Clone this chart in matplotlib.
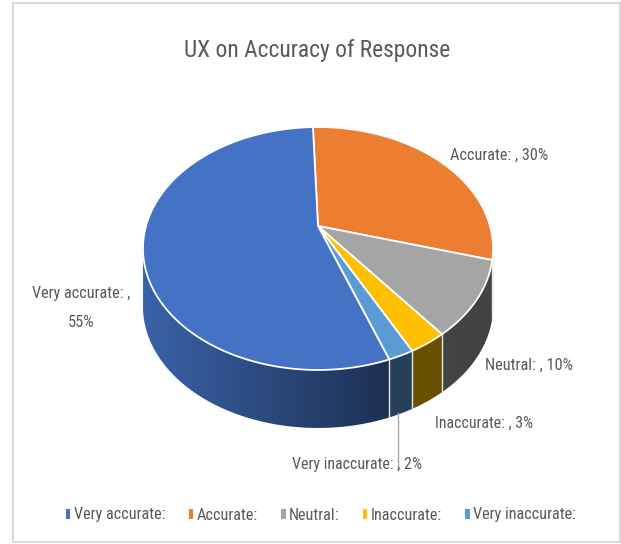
import os
import numpy as np
import matplotlib
matplotlib.use('Agg')
import matplotlib.pyplot as plt
from matplotlib.patches import Polygon, Rectangle, Patch
from matplotlib.colors import to_rgb
from matplotlib import font_manager as fm

# ---------------- data ----------------
categories = ['Very accurate:', 'Accurate:', 'Neutral:', 'Inaccurate:', 'Very inaccurate:']
values = [55, 30, 10, 3, 2]
pct_labels = ['55%', '30%', '10%', '3%', '2%']
colors = ['#4472C4', '#ED7D31', '#A5A5A5', '#FFC000', '#5B9BD5']
title = 'UX on Accuracy of Response'
draw_order = [1, 2, 3, 4, 0]          # clockwise from 12 o'clock

# ---------------- font ----------------
names = {f.name for f in fm.fontManager.ttflist}
fam = 'Lato'
for cand in ['Roboto Condensed', 'Archivo Narrow', 'Liberation Sans Narrow']:
    if cand in names:
        fam = cand
        break
base_fp = fm.FontProperties(family=fam)

def fp(size):
    p = base_fp.copy()
    p.set_size(size)
    return p

# ---------------- figure ----------------
W, H = 621, 544
fig = plt.figure(figsize=(W / 100, H / 100), dpi=100)
ax = fig.add_axes([0, 0, 1, 1])
ax.axis('off')

ax.add_patch(Rectangle((13, 3), 607, 539, facecolor='white', edgecolor='#d9d9d9', lw=1.5, zorder=0))

# perspective pie geometry
cx, cy = 318.0, 226.0
A, B, k = 172.0, 117.3, 0.1852
depth = 58.0
start = 92.0

def top_pt(th):
    t = np.radians(th)
    u, v = np.cos(t), np.sin(t)
    d = 1 + k * v
    return cx + A * u / d, cy - B * v / d

vis_lo = -180.0 + np.degrees(np.arcsin(k))
vis_hi = -np.degrees(np.arcsin(k))

def factor(X):
    return np.interp(X, [143, 390, 493], [0.86, 0.42, 0.40])

total = float(sum(values))
a = start
slices = []
for i in draw_order:
    b = a - 360.0 * values[i] / total
    slices.append((i, a, b))
    a = b

# sides (shaded with a horizontal gradient clipped to each side face)
for i, a, b in slices:
    for m in (-1, 0, 1):
        lo = max(b, vis_lo + 360 * m)
        hi = min(a, vis_hi + 360 * m)
        if hi <= lo:
            continue
        ths = np.linspace(lo, hi, max(3, int((hi - lo) * 2) + 2))
        topp = [top_pt(t) for t in ths]
        verts = topp + [(x, y + depth) for x, y in topp[::-1]]
        poly = Polygon(verts, closed=True, facecolor='none', edgecolor='none', zorder=2)
        ax.add_patch(poly)
        xs = np.array([p[0] for p in verts])
        ys = np.array([p[1] for p in verts])
        x0, x1 = xs.min() - 1, xs.max() + 1
        y0, y1 = ys.min() - 1, ys.max() + 1
        gx = np.linspace(x0, x1, 256)
        base = np.array(to_rgb(colors[i]))
        img = np.clip(base[None, :] * factor(gx)[:, None], 0, 1)[None, :, :]
        im = ax.imshow(img, extent=(x0, x1, y1, y0), origin='upper', aspect='auto',
                       interpolation='bilinear', zorder=2)
        im.set_clip_path(poly)

# side boundary lines
for i, a, b in slices:
    thm = (a + 180) % 360 - 180
    if vis_lo < thm < vis_hi:
        x, y = top_pt(thm)
        ax.plot([x, x], [y, y + depth], color='#e8e8e8', lw=1.0, zorder=3)

# top faces
for i, a, b in slices:
    ths = np.linspace(a, b, max(3, int(abs(a - b)) + 2))
    pts = [(cx, cy)] + [top_pt(t) for t in ths]
    ax.add_patch(Polygon(pts, closed=True, facecolor=colors[i], edgecolor='white',
                         lw=1.3, joinstyle='round', zorder=4))

ax.set_xlim(0, W)
ax.set_ylim(H, 0)

# ---------------- texts ----------------
txt_col = '#595959'
t_title = ax.text(317.5, 57, title, ha='center', va='baseline', color=txt_col, fontproperties=fp(18))

label_specs = {
    1: (499, 160, 98),
    2: (529, 370, 88),
    3: (484, 428, 98),
    4: (357, 469, 130),
}
label_texts = []
for i, (x, y, w) in label_specs.items():
    t = ax.text(x, y, '%s , %s' % (categories[i], pct_labels[i]), ha='center', va='baseline',
                color=txt_col, fontproperties=fp(12), zorder=6)
    label_texts.append((t, w))
t_va = ax.text(81, 298, '%s ,' % categories[0], ha='center', va='baseline', color=txt_col,
               fontproperties=fp(12), zorder=6)
t_va2 = ax.text(81, 327, pct_labels[0], ha='center', va='baseline', color=txt_col,
                fontproperties=fp(12), zorder=6)

# leader line for the small slice
ax.plot([398, 398], [413, 470], color='#a6a6a6', lw=1.0, zorder=5)

fig.canvas.draw()
r = fig.canvas.get_renderer()
def fit(t, target):
    w = t.get_window_extent(r).width
    t.set_fontsize(t.get_fontsize() * target / w)
fit(t_title, 267)
for t, w in label_texts:
    fit(t, w)
fit(t_va, 98)
t_va2.set_fontsize(t_va.get_fontsize())

# legend
lab_size = t_va.get_fontsize()
handles = [Patch(facecolor=c, edgecolor='none') for c in colors]
leg = ax.legend(handles, categories, loc='center', bbox_to_anchor=(321 / W, 1 - 515 / H),
                bbox_transform=fig.transFigure, ncol=5, frameon=False,
                handlelength=0.28, handleheight=0.55, handletextpad=0.2,
                columnspacing=1.45, prop=fp(lab_size), labelcolor=txt_col, borderaxespad=0)

fig.savefig('out.png', dpi=100, facecolor='white')
